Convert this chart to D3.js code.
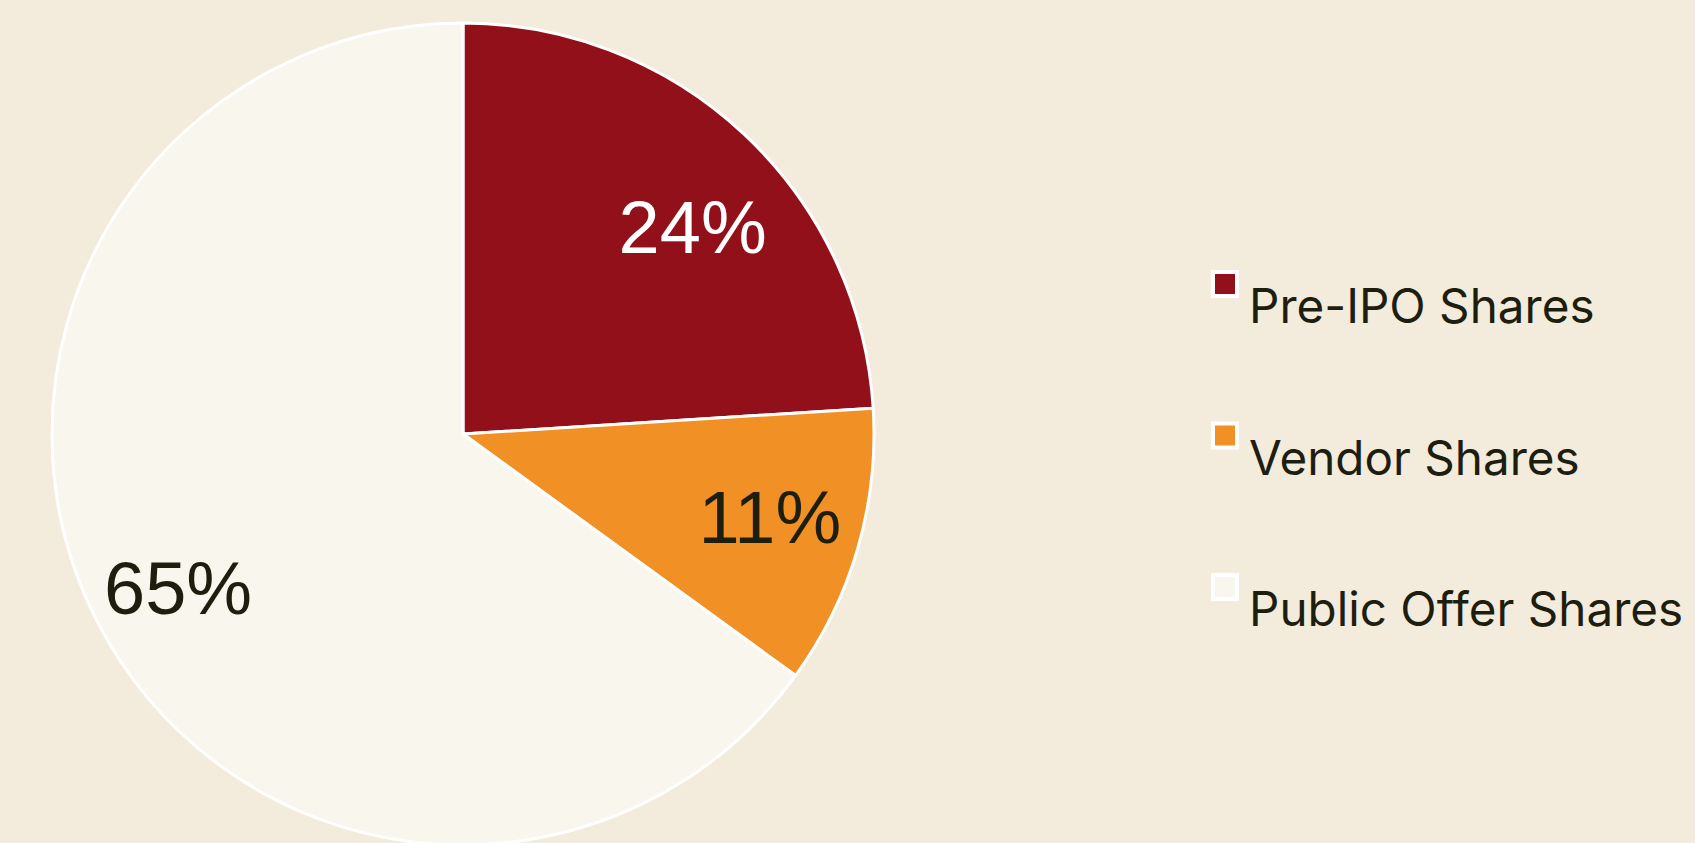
<!DOCTYPE html>
<html>
<head>
<meta charset="utf-8">
<script src="https://cdn.jsdelivr.net/npm/d3@7/dist/d3.min.js"></script>
<style>
  html, body { margin: 0; padding: 0; background: #f3ecdd; overflow: hidden; }
  svg { display: block; }
</style>
</head>
<body>
<svg id="chart" width="1695" height="843"></svg>
<script>
const categories = ["Pre-IPO Shares", "Vendor Shares", "Public Offer Shares"];
const values = [24, 11, 65];
const labels = ["24%", "11%", "65%"];
const colors = ["#921019", "#f09025", "#f9f6ee"];
const labelColors = ["#ffffff", "#1e1e0e", "#1e1e0e"];

const svg = d3.select("#chart");
const W = 1695, H = 843;
const cx = 463, cy = 434, R = 411;
// layout nudges for the data labels (px), styling only
const labelNudge = [[13, 24], [3, -5], [-3, 11]];

svg.append("rect").attr("width", W).attr("height", H).attr("fill", "#f3ecdd");

const data = categories.map((c, i) => ({ name: c, value: values[i], label: labels[i], color: colors[i], lc: labelColors[i], nudge: labelNudge[i] }));

const pie = d3.pie().value(d => d.value).sort(null);
const arcs = pie(data);
const arc = d3.arc().innerRadius(0).outerRadius(R);
const labelArc = d3.arc().innerRadius(R * 0.77).outerRadius(R * 0.77);

const g = svg.append("g").attr("transform", `translate(${cx},${cy})`);

g.selectAll("path.slice")
  .data(arcs)
  .enter().append("path")
  .attr("class", "slice")
  .attr("d", arc)
  .attr("fill", d => d.data.color)
  .attr("stroke", "#ffffff")
  .attr("stroke-width", 3)
  .attr("stroke-linejoin", "round");

g.selectAll("text.lbl")
  .data(arcs)
  .enter().append("text")
  .attr("class", "lbl")
  .attr("transform", d => {
    const c = labelArc.centroid(d);
    return `translate(${c[0] + d.data.nudge[0]},${c[1] + d.data.nudge[1]})`;
  })
  .attr("text-anchor", "middle")
  .attr("dominant-baseline", "central")
  .attr("font-family", "'Liberation Sans', Arial, sans-serif")
  .attr("font-size", 74)
  .attr("fill", d => d.data.lc)
  .text(d => d.data.label);

const legendY = d3.scalePoint().domain(categories).range([272, 575]);
const lg = svg.append("g");
const items = lg.selectAll("g.item").data(data).enter().append("g")
  .attr("class", "item")
  .attr("transform", d => `translate(1213,${legendY(d.name)})`);

items.append("rect")
  .attr("x", 0).attr("y", 0)
  .attr("width", 24).attr("height", 24)
  .attr("fill", d => d.color)
  .attr("stroke", "#ffffff")
  .attr("stroke-width", 4);

items.append("text")
  .attr("x", 36)
  .attr("y", 51)
  .attr("font-family", "Inter, 'Noto Sans', sans-serif")
  .attr("font-size", 47.6)
  .attr("fill", "#1e1e10")
  .text(d => d.name);
</script>
</body>
</html>
